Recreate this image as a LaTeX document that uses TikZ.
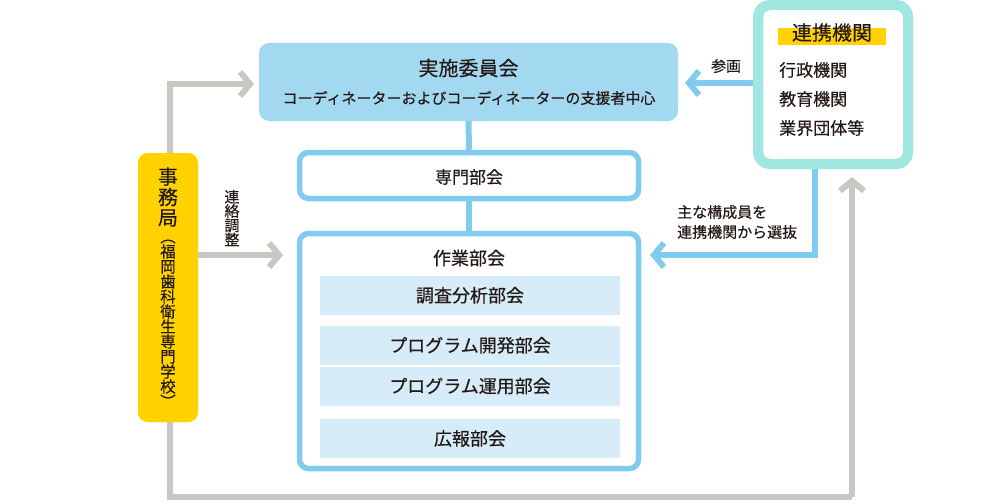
\documentclass[tikz,border=0pt]{standalone}
\usepackage{fontspec}
\setmainfont{Noto Sans CJK JP}[FakeBold=0.35]
\usetikzlibrary{arrows.meta}
\definecolor{boxblue}{HTML}{A3D8F1}
\definecolor{lineblue}{HTML}{80CBEE}
\definecolor{paleblue}{HTML}{D6EDF9}
\definecolor{turq}{HTML}{A2E6E2}
\definecolor{jyellow}{HTML}{FFD200}
\definecolor{lgray}{HTML}{C7C8C2}
\definecolor{txt}{HTML}{231815}
\begin{document}
\begin{tikzpicture}[x=1pt,y=-1pt,
  every node/.style={text=txt, inner sep=0pt},
  fs/.style={font=\fontsize{#1}{#1}\selectfont},
  outlinebox/.style={draw=lineblue, line width=5.5pt, fill=white, rounded corners=9pt},
  subbox/.style={fill=paleblue, minimum width=300pt},
  blueline/.style={draw=lineblue, line width=6pt},
  bluearrow/.style={draw=lineblue, line width=6pt, -{Straight Barb[length=10pt,width=24pt]}},
  grayarrow/.style={draw=lgray, line width=6pt, -{Straight Barb[length=10pt,width=24pt]}},
  grayline/.style={draw=lgray, line width=6pt},
]
\useasboundingbox (0,0) rectangle (981,503);

% named free ends
\coordinate (sankakuTip) at (685,83);
\coordinate (selTip) at (650,255);
\coordinate (topTip) at (254,84);
\coordinate (renTip) at (283,255);
\coordinate (botRight) at (852,497);
\coordinate (upTip) at (852,177);

% boxes
\node[fill=boxblue, rounded corners=10pt, minimum width=419pt, minimum height=78pt] (jisshi) at (468.5,82) {};
\node[fs=20] at (468.5,68) {実施委員会};
\node[fs=15] at (469,98) {コーディネーターおよびコーディネーターの支援者中心};

\node[outlinebox, minimum width=339pt, minimum height=46pt] (senmon) at (469,175.5) {};
\node[fs=17] at (469,177) {専門部会};

\node[outlinebox, minimum width=339pt, minimum height=235pt] (sagyo) at (469,351) {};
\node[fs=18] (sagyoLabel) at (469,258) {作業部会};
\node[subbox, minimum height=39.5pt] (chosa) at (470,295.3) {};
\node[fs=18] at (470,295.3) {調査分析部会};
\node[subbox, minimum height=39.5pt] (kaihatsu) at (470,345.3) {};
\node[fs=18] at (470,345.3) {プログラム開発部会};
\node[subbox, minimum height=39pt] (unyo) at (470,386) {};
\node[fs=18] at (470,386) {プログラム運用部会};
\node[subbox, minimum height=39pt] (koho) at (470,438.5) {};
\node[fs=18] at (470,438.5) {広報部会};

% connectors between committee boxes
\draw[blueline] (jisshi.south) -- (senmon.north);
\draw[blueline] (senmon.south) -- (sagyo.north);

% 連携機関
\node[draw=turq, line width=10pt, fill=white, rounded corners=12pt, minimum width=150pt, minimum height=159pt] (renkei) at (833,84.5) {};
\draw[bluearrow] (renkei.west |- sankakuTip) -- (sankakuTip);
\draw[bluearrow] ([xshift=-18pt]renkei.south) |- (selTip);
\node[draw=turq, line width=10pt, rounded corners=12pt, minimum width=150pt, minimum height=159pt] at (833,84.5) {};
\node[fill=jyellow, minimum width=108pt, minimum height=17pt] (ybar) at (832,36.5) {};
\node[fs=20] (renkeiTitle) at (832,32.5) {連携機関};
\node[fs=17, anchor=west] (gyosei) at (779,70) {行政機関};
\node[fs=17, anchor=west] (kyoiku) at (779,99) {教育機関};
\node[fs=17, anchor=west] (gyokai) at (779,128) {業界団体等};

\node[fs=15] (sankakuLabel) at (726,66) {参画};
\node[font=\fontsize{15}{20}\selectfont, align=left, anchor=west] (selLabel) at (677,222) {主な構成員を\\連携機関から選抜};

% 事務局
\node[fill=jyellow, rounded corners=10pt, minimum width=60pt, minimum height=269pt] (jimu) at (168,287.5) {};
\draw[grayarrow] ([xshift=2pt]jimu.north) |- (topTip);
\draw[grayline] ([xshift=2pt]jimu.south) |- (botRight);
\draw[grayarrow] (botRight) -- (upTip);
\draw[grayarrow] (jimu.east |- renTip) -- (renTip);
\node[fill=jyellow, rounded corners=10pt, minimum width=60pt, minimum height=269pt] at (168,287.5) {};
\node[align=center, font=\fontsize{20}{20.5}\selectfont] (jimuLabel) at (168,197) {事\\務\\局};
\node[align=center, font=\fontsize{15.5}{15}\selectfont] (jimuSub) at (168,323.5) {︵\\福\\岡\\歯\\科\\衛\\生\\専\\門\\学\\校\\︶};
\node[align=center, font=\fontsize{15}{14.3}\selectfont] (renrakuLabel) at (232,218) {連\\絡\\調\\整};
\end{tikzpicture}
\end{document}
